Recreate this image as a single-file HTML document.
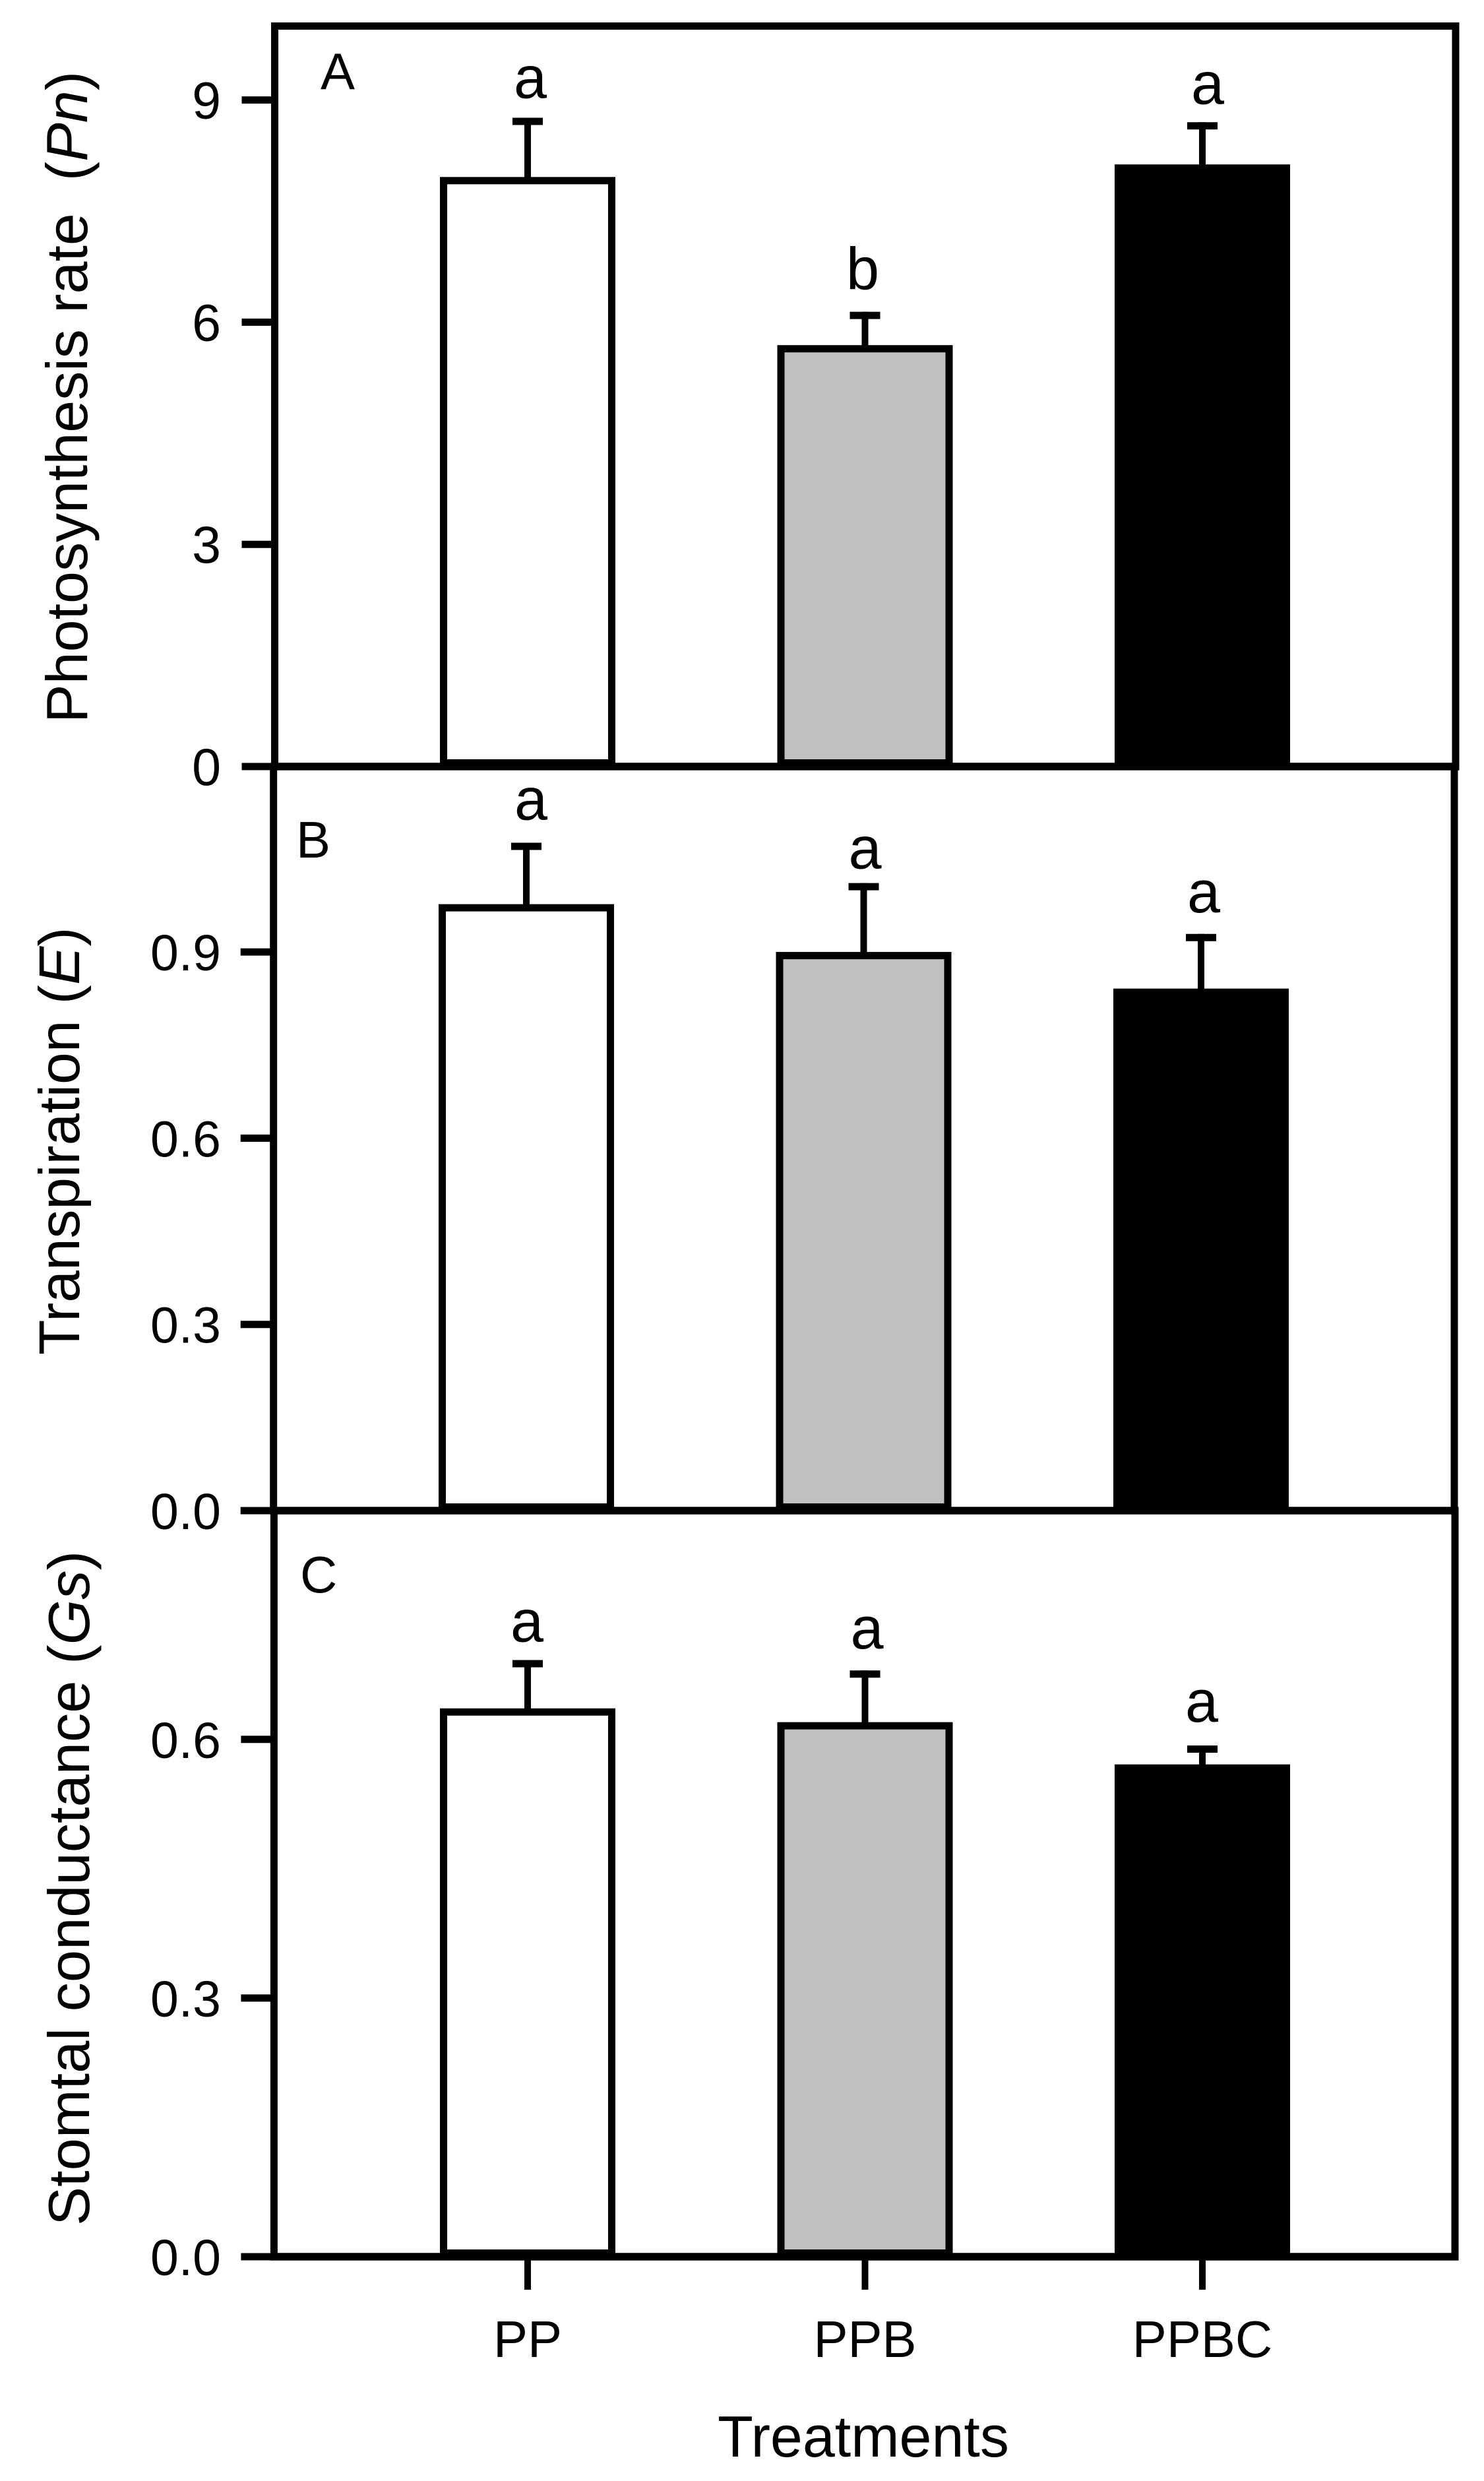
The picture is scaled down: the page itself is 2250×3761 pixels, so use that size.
<!DOCTYPE html>
<html lang="en">
<head>
<meta charset="utf-8">
<title>Photosynthesis, transpiration and stomatal conductance by treatment</title>
<style>
html,body{margin:0;padding:0;background:#fff;}
svg{display:block;}
text{font-family:"Liberation Sans",Arial,sans-serif;fill:#000;}
</style>
</head>
<body>
<svg id="chart" xmlns="http://www.w3.org/2000/svg" width="2250" height="3761" viewBox="0 0 2250 3761">
  <rect x="0" y="0" width="2250" height="3761" fill="#fff"/>
  <g id="panels"></g>
  <text x="1309" y="3724" font-size="88" text-anchor="middle">Treatments</text>
</svg>
<script>
// ---- data ----
const categories = ['PP', 'PPB', 'PPBC'];

const pnMeans = [7.96, 5.69, 8.13];
const pnErrors = [0.80, 0.45, 0.57];
const pnLetters = ['a', 'b', 'a'];
const pnTicks = [0, 3, 6, 9];
const pnTickLabels = ['0', '3', '6', '9'];

const eMeans = [0.977, 0.900, 0.841];
const eErrors = [0.099, 0.111, 0.088];
const eLetters = ['a', 'a', 'a'];
const eTicks = [0, 0.3, 0.6, 0.9];
const eTickLabels = ['0.0', '0.3', '0.6', '0.9'];

const gsMeans = [0.636, 0.620, 0.571];
const gsErrors = [0.056, 0.060, 0.022];
const gsLetters = ['a', 'a', 'a'];
const gsTicks = [0, 0.3, 0.6];
const gsTickLabels = ['0.0', '0.3', '0.6'];

// ---- layout ----
const SVG_NS = 'http://www.w3.org/2000/svg';
const FILLS = ['#ffffff', '#c0c0c0', '#000000'];
const STROKE = 11;
const BAR_WIDTH = 266;
const CAP_WIDTH = 46;
const STEP = 511.5;
const TICK_LEN = 50;

const panels = [
  {
    id: 'pn', means: pnMeans, errors: pnErrors, letters: pnLetters, ticks: pnTicks, tickLabels: pnTickLabels,
    top: 39.5, bottom: 1162, unitPx: 112.27, left: 416.5, right: 2207, xStart: 800,
    labelRight: 335, tickSize: 79,
    panelLetter: 'A', letterX: 486, letterY: 135,
    nudges: [[4, 0], [-3.5, -4], [8, 2]],
    titleX: 132, titleY: 1096, titleSize: 88,
    title: [['Photosynthesis rate\u00a0\u00a0(', false], ['Pn', true], [')', false]]
  },
  {
    id: 'e', means: eMeans, errors: eErrors, letters: eLetters, ticks: eTicks, tickLabels: eTickLabels,
    top: 1162, bottom: 2290, unitPx: 941, left: 414.7, right: 2205, xStart: 798,
    labelRight: 335, tickSize: 77,
    panelLetter: 'B', letterX: 449, letterY: 1300,
    nudges: [[7, -5], [2, 8], [4, -3]],
    titleX: 120, titleY: 2054, titleSize: 87.5,
    title: [['Transpiration (', false], ['E', true], [')', false]]
  },
  {
    id: 'gs', means: gsMeans, errors: gsErrors, letters: gsLetters, ticks: gsTicks, tickLabels: gsTickLabels,
    top: 2290, bottom: 3421, unitPx: 1307, left: 415.4, right: 2206, xStart: 800,
    labelRight: 335, tickSize: 77,
    panelLetter: 'C', letterX: 455, letterY: 2414,
    nudges: [[-1, 2], [3, -3], [-1, -6]],
    titleX: 135, titleY: 3374, titleSize: 88.5,
    title: [['Stomtal conductance (', false], ['Gs', true], [')', false]]
  }
];

function make(tag, attrs, parent) {
  const node = document.createElementNS(SVG_NS, tag);
  for (const key in attrs) node.setAttribute(key, attrs[key]);
  parent.appendChild(node);
  return node;
}

function xScale(panel, i) {
  return panel.xStart + i * STEP;
}

function yScale(panel, value) {
  return panel.bottom - value * panel.unitPx;
}

const panelsRoot = document.getElementById('panels');

panels.forEach(function (panel) {
  const group = make('g', {}, panelsRoot);
  
  

  // bars + error bars
  categories.forEach(function (cat, i) {
    const cx = xScale(panel, i);
    const topOuter = yScale(panel, panel.means[i]);
    const capOuter = yScale(panel, panel.means[i] + panel.errors[i]);

    const stem = make('line', {
      x1: cx, x2: cx, y1: capOuter, y2: topOuter + STROKE / 2,
      stroke: '#000', 'stroke-width': 10
    }, group);
    
    

    const cap = make('line', {
      x1: cx - CAP_WIDTH / 2, x2: cx + CAP_WIDTH / 2, y1: capOuter + STROKE / 2, y2: capOuter + STROKE / 2,
      stroke: '#000', 'stroke-width': STROKE
    }, group);
    
    

    const bar = make('rect', {
      x: cx - BAR_WIDTH / 2 + STROKE / 2,
      y: topOuter + STROKE / 2,
      width: BAR_WIDTH - STROKE,
      height: panel.bottom - topOuter - STROKE,
      fill: FILLS[i], stroke: '#000', 'stroke-width': STROKE
    }, group);
    
    

    const letter = make('text', {
      x: cx + panel.nudges[i][0],
      y: capOuter - 30 + panel.nudges[i][1],
      'font-size': 90, 'text-anchor': 'middle'
    }, group);
    letter.textContent = panel.letters[i];
    
    
  });

  // frame
  const frameLeft = make('line', {
    x1: panel.left, x2: panel.left, y1: panel.top - STROKE / 2, y2: panel.bottom + STROKE / 2,
    stroke: '#000', 'stroke-width': STROKE
  }, group);
  
  

  const frameRight = make('line', {
    x1: panel.right, x2: panel.right, y1: panel.top - STROKE / 2, y2: panel.bottom + STROKE / 2,
    stroke: '#000', 'stroke-width': STROKE
  }, group);
  
  

  const frameTop = make('line', {
    x1: panel.left - STROKE / 2, x2: panel.right + STROKE / 2, y1: panel.top, y2: panel.top,
    stroke: '#000', 'stroke-width': STROKE
  }, group);
  
  

  const frameBottom = make('line', {
    x1: panel.left - STROKE / 2, x2: panel.right + STROKE / 2, y1: panel.bottom, y2: panel.bottom,
    stroke: '#000', 'stroke-width': STROKE + 0.5
  }, group);
  
  

  // y ticks
  panel.ticks.forEach(function (tick, k) {
    const ty = yScale(panel, tick);
    const mark = make('line', {
      x1: panel.left - TICK_LEN, x2: panel.left, y1: ty, y2: ty,
      stroke: '#000', 'stroke-width': STROKE
    }, group);
    
    

    const label = make('text', {
      x: panel.labelRight, y: ty + 28, 'font-size': panel.tickSize, 'text-anchor': 'end'
    }, group);
    label.textContent = panel.tickLabels[k];
    
    
  });

  // panel letter
  const tag = make('text', {
    x: panel.letterX, y: panel.letterY, 'font-size': 78
  }, group);
  tag.textContent = panel.panelLetter;
  
  

  // y title
  const title = make('text', {
    transform: 'translate(' + panel.titleX + ' ' + panel.titleY + ') rotate(-90)',
    'font-size': panel.titleSize
  }, group);
  
  
  panel.title.forEach(function (part) {
    const span = make('tspan', part[1] ? { 'font-style': 'italic' } : {}, title);
    span.textContent = part[0];
  });
});

// x ticks and category labels (bottom panel)
const bottomPanel = panels[2];
categories.forEach(function (cat, i) {
  const cx = xScale(bottomPanel, i);
  const xTick = make('line', {
    x1: cx, x2: cx, y1: bottomPanel.bottom, y2: 3471,
    stroke: '#000', 'stroke-width': 10
  }, panelsRoot);
  
  

  const xLabel = make('text', {
    x: cx, y: 3573, 'font-size': 78, 'text-anchor': 'middle'
  }, panelsRoot);
  xLabel.textContent = cat;
  
  
});
</script>
</body>
</html>
